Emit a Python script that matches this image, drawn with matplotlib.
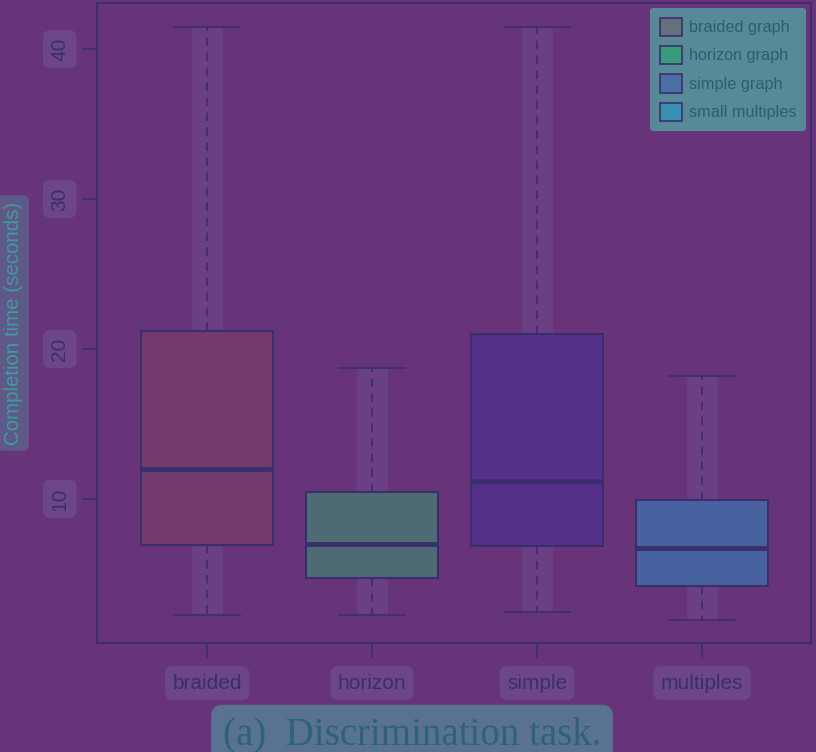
import matplotlib.pyplot as plt
import matplotlib.patches as mpatches

# box statistics (seconds)
groups = ['braided', 'horizon', 'simple', 'multiples']
legend_labels = ['braided graph', 'horizon graph', 'simple graph', 'small multiples']
whis_low = [2.25, 2.27, 2.47, 1.96]
q1 = [6.93, 4.75, 6.87, 4.2]
medians = [12.0, 7.0, 11.2, 6.71]
q3 = [21.2, 10.45, 20.98, 9.93]
whis_high = [41.47, 18.73, 41.47, 18.2]

box_colors = ['#733a6c', '#4e6b74', '#55308a', '#4862a0']
legend_colors = ['#65707a', '#3c9a7c', '#4a6fa2', '#3b8fb3']
bg = '#683479'
ink = '#3a2f6e'
halo = dict(boxstyle='round,pad=0.35', facecolor='#7463a3', edgecolor='none', alpha=0.4)

fig = plt.figure(figsize=(8.16, 7.52), dpi=100, facecolor=bg)
ax = fig.add_axes([0.1189, 0.145, 0.875, 0.851], facecolor=bg)

pos = [1, 2, 3, 4]
stats = []
for i in range(len(groups)):
    stats.append({'med': medians[i], 'q1': q1[i], 'q3': q3[i],
                  'whislo': whis_low[i], 'whishi': whis_high[i], 'fliers': []})

# soft lighter band behind the whiskers
ax.vlines(pos, whis_low, whis_high, colors='#7262a2', linewidth=22, alpha=0.25, zorder=1)

res = ax.bxp(stats, positions=pos, widths=0.8, capwidths=0.4,
             patch_artist=True, showfliers=False,
             boxprops=dict(edgecolor=ink, linewidth=1.5),
             medianprops=dict(color=ink, linewidth=3.5),
             whiskerprops=dict(color=ink, linewidth=1.2, linestyle=(0, (5, 4))),
             capprops=dict(color=ink, linewidth=1.2))
for b, c in zip(res['boxes'], box_colors):
    b.set_facecolor(c)

ax.set_xlim(0.333, 4.66)
ax.set_ylim(0.4, 43.07)
ax.set_yticks([10, 20, 30, 40])
ax.set_yticklabels(['10', '20', '30', '40'], rotation=90, va='center',
                   fontsize=15, color=ink, family='Liberation Sans')
ax.set_xticks(pos)
ax.set_xticklabels(groups, fontsize=15, color=ink, family='Liberation Sans')
for t in ax.get_xticklabels() + ax.get_yticklabels():
    t.set_bbox(halo)
ax.tick_params(axis='both', length=11, width=1.2, color=ink)
ax.tick_params(axis='x', pad=11)
ax.tick_params(axis='y', pad=9)
for s in ax.spines.values():
    s.set_color(ink)
    s.set_linewidth(1.5)

ax.set_ylabel('Completion time (seconds)', fontsize=14.8, color='#3f9c9c',
              family='Liberation Sans',
              bbox=dict(boxstyle='round,pad=0.3', facecolor='#55889e', edgecolor='none', alpha=0.45))
ax.yaxis.set_label_coords(-0.104, 0.5)

handles = [mpatches.Patch(facecolor=c, edgecolor=ink, linewidth=1.2) for c in legend_colors]
leg = ax.legend(handles, legend_labels, loc='upper right', fontsize=11.7,
                frameon=True, facecolor='#55999f', edgecolor='none', framealpha=0.85,
                handlelength=1.35, handleheight=1.35, handletextpad=0.45,
                labelspacing=0.62, borderaxespad=0.3, borderpad=0.6)
for t in leg.get_texts():
    t.set_color('#2c5e6c')
    t.set_family('Liberation Sans')

fig.text(0.505, 0.01, '(a)  Discrimination task.', ha='center', va='baseline',
         fontsize=28, family='Liberation Serif', color='#2e6472',
         bbox=dict(boxstyle='round,pad=0.3', facecolor='#4f9aa4', edgecolor='none', alpha=0.6))

plt.savefig('out.png', dpi=100, facecolor=bg)
